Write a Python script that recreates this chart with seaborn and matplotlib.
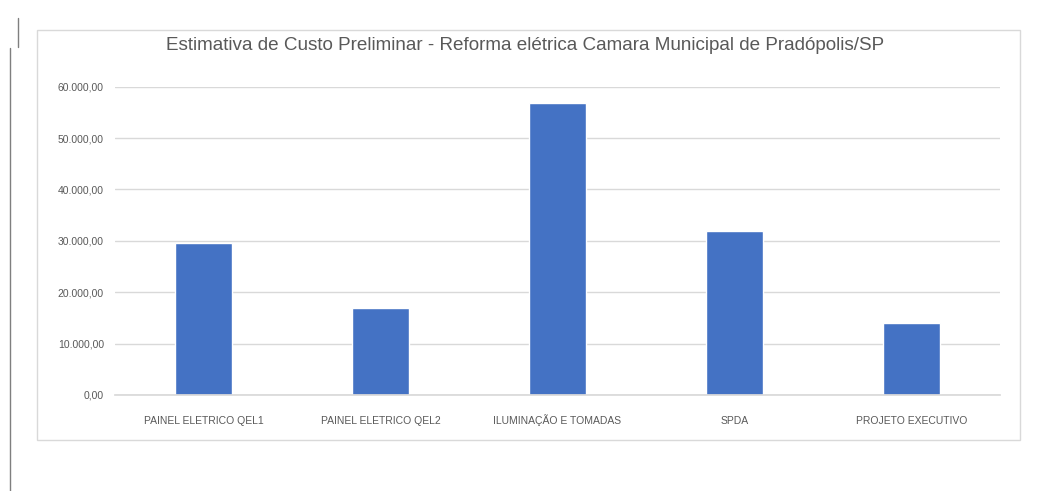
import matplotlib
matplotlib.use("Agg")
import matplotlib.pyplot as plt
from matplotlib.patches import Rectangle
from matplotlib.lines import Line2D
from matplotlib.ticker import FuncFormatter
import seaborn as sns
import pandas as pd

categories = ["PAINEL ELETRICO QEL1", "PAINEL ELETRICO QEL2", "ILUMINAÇÃO E TOMADAS",
              "SPDA", "PROJETO EXECUTIVO"]
values = [29500, 17000, 56900, 31900, 14100]
yticks = [0, 10000, 20000, 30000, 40000, 50000, 60000]
title = "Estimativa de Custo Preliminar - Reforma elétrica Camara Municipal de Pradópolis/SP"

df = pd.DataFrame({"cat": categories, "val": values})

sns.set_theme(style="white")
plt.rcParams['font.family'] = ['Liberation Sans Narrow', 'Liberation Sans', 'DejaVu Sans']

W, H = 1063, 491
fig = plt.figure(figsize=(W / 100, H / 100), dpi=100)
fig.patch.set_facecolor("white")

ax = fig.add_axes([115 / W, 1 - 395 / H, 885 / W, (395 - 86.7) / H])
sns.barplot(data=df, x="cat", y="val", color="#4472C4", saturation=1, width=0.32, ax=ax)

ax.set_xlim(-0.5, 4.5)
ax.set_ylim(0, 60000)
ax.set_yticks(yticks)

def br(v, pos):
    s = f"{v:,.2f}"
    return s.replace(",", "X").replace(".", ",").replace("X", ".")

ax.yaxis.set_major_formatter(FuncFormatter(br))
ax.grid(axis="y", color="#D9D9D9", linewidth=1)
ax.set_axisbelow(True)
for s in ["top", "right", "left"]:
    ax.spines[s].set_visible(False)
ax.spines["bottom"].set_color("#D9D9D9")
ax.tick_params(axis="y", length=0, pad=8, labelsize=7.5, labelcolor="#595959")
ax.tick_params(axis="x", length=0, pad=21, labelsize=7.5, labelcolor="#595959")
for lab in ax.get_xticklabels():
    lab.set_verticalalignment("baseline")
ax.set_xlabel("")
ax.set_ylabel("")

fig.text(525 / W, 1 - 46 / H, title, ha="center", va="center", fontsize=13.6, color="#595959")

# chart border
fig.patches.append(Rectangle((37 / W, 1 - 440 / H), (1020 - 37) / W, (440 - 30) / H,
                             transform=fig.transFigure, fill=False, edgecolor="#D9D9D9",
                             linewidth=1))
# stray document margin lines
fig.lines.append(Line2D([10 / W, 10 / W], [0, 1 - 48 / H], transform=fig.transFigure,
                        color="#7F7F7F", linewidth=1))
fig.lines.append(Line2D([18 / W, 18 / W], [1 - 18 / H, 1 - 47 / H], transform=fig.transFigure,
                        color="#7F7F7F", linewidth=1))

fig.savefig("out.png", dpi=100)
